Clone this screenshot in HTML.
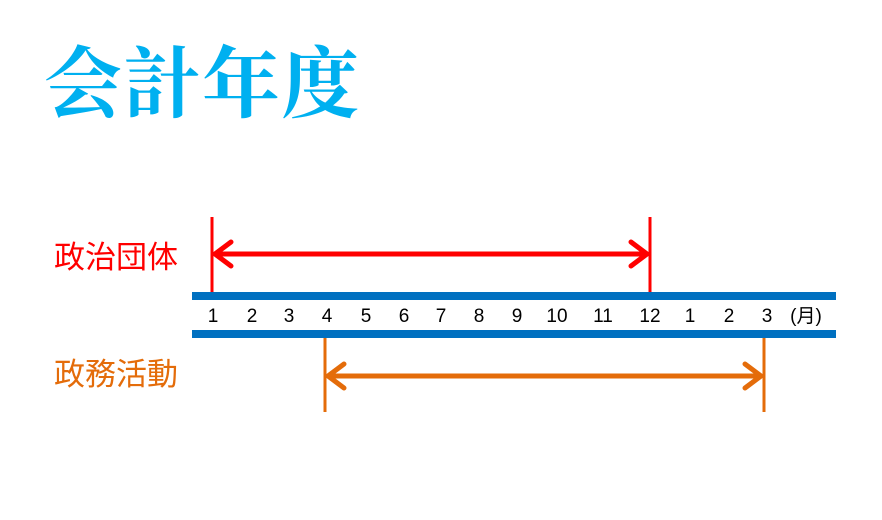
<!DOCTYPE html>
<html><head><meta charset="utf-8"><style>
body{margin:0;width:882px;height:520px;background:#fff;overflow:hidden;position:relative;font-family:"Liberation Sans","Noto Sans CJK JP",sans-serif}
.t{position:absolute;left:44px;top:28px;font:bold 78px "Noto Serif CJK SC","Liberation Serif",serif;color:#00b0f0;letter-spacing:1px;line-height:100px}
.l{position:absolute;left:54px;font-size:31px;line-height:36px}
</style></head><body>
<div class="t">会計年度</div>
<div class="l" style="top:240px;color:#ff0000">政治団体</div>
<div class="l" style="top:357px;color:#e46c0a">政務活動</div>
<svg width="882" height="520" style="position:absolute;left:0;top:0">
<rect x="192" y="292" width="644" height="8" fill="#0070c0"/>
<rect x="192" y="330" width="644" height="8" fill="#0070c0"/>
<g font-family="Liberation Sans, Noto Sans CJK JP, sans-serif" font-size="19" text-anchor="middle" fill="#000">
<text x="213" y="322">1</text><text x="252" y="322">2</text><text x="289" y="322">3</text><text x="327" y="322">4</text><text x="366" y="322">5</text><text x="404" y="322">6</text><text x="441" y="322">7</text><text x="479" y="322">8</text><text x="517" y="322">9</text><text x="557" y="322">10</text><text x="603" y="322">11</text><text x="650" y="322">12</text><text x="690" y="322">1</text><text x="729" y="322">2</text><text x="767" y="322">3</text><text x="806" y="322">(月)</text>
</g>
<g stroke="#ff0000" fill="none" stroke-linecap="round">
<line x1="212" y1="217" x2="212" y2="292" stroke-width="3" stroke-linecap="butt"/>
<line x1="650" y1="217" x2="650" y2="292" stroke-width="3" stroke-linecap="butt"/>
<line x1="216" y1="254" x2="646" y2="254" stroke-width="5"/>
<polyline points="231,242 215,254 231,266" stroke-width="5"/>
<polyline points="631,242 647,254 631,266" stroke-width="5"/>
</g>
<g stroke="#e46c0a" fill="none" stroke-linecap="round">
<line x1="325" y1="338" x2="325" y2="412" stroke-width="3" stroke-linecap="butt"/>
<line x1="764" y1="338" x2="764" y2="412" stroke-width="3" stroke-linecap="butt"/>
<line x1="329" y1="376" x2="760" y2="376" stroke-width="5"/>
<polyline points="344,364 328,376 344,388" stroke-width="5"/>
<polyline points="745,364 761,376 745,388" stroke-width="5"/>
</g>
</svg>
</body></html>
